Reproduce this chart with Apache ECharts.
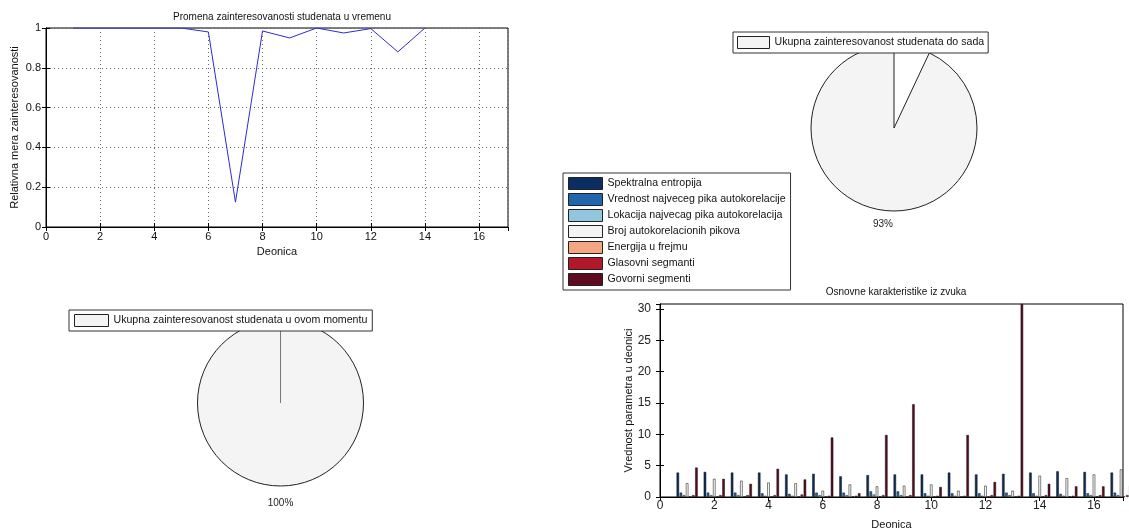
<!DOCTYPE html>
<html>
<head>
<meta charset="utf-8">
<script src="https://cdn.jsdelivr.net/npm/echarts@6/dist/echarts.min.js"></script>
<style>
  html, body { margin: 0; padding: 0; background: #fff; }
  #main { width: 1129px; height: 531px; }
</style>
</head>
<body>
<div id="main"></div>
<script>
// zainteresovanost po deonicama
const deonice = [1, 2, 3, 4, 5, 6, 7, 8, 9, 10, 11, 12, 13, 14];
const zainteresovanost = [1, 1, 1, 1, 1, 0.98, 0.125, 0.985, 0.95, 1, 0.975, 0.997, 0.88, 1];

// pite
const pieDoSada = [0.93, 0.07];
const pieMoment = [1, 0];
const pieDoSadaName = 'Ukupna zainteresovanost studenata do sada';
const pieMomentName = 'Ukupna zainteresovanost studenata u ovom momentu';

// karakteristike iz zvuka
const grupe = [1, 2, 3, 4, 5, 6, 7, 8, 9, 10, 11, 12, 13, 14, 15, 16, 17];
const imena = [
  'Spektralna entropija',
  'Vrednost najveceg pika autokorelacije',
  'Lokacija najvecag pika autokorelacija',
  'Broj autokorelacionih pikova',
  'Energija u frejmu',
  'Glasovni segmanti',
  'Govorni segmenti'
];
const boje = ['#0b2d61', '#2166ac', '#92c5de', '#f4f4f4', '#f4a582', '#b2182b', '#5e0a1f'];
const entropija = [3.9, 4.0, 3.9, 3.9, 3.6, 3.7, 3.3, 3.5, 3.6, 3.6, 3.9, 3.6, 3.7, 3.9, 4.1, 4.0, 3.9];
const vrednostPika = [0.7, 0.7, 0.7, 0.6, 0.5, 0.7, 0.7, 0.9, 0.9, 0.6, 0.6, 0.6, 0.7, 0.6, 0.5, 0.6, 0.7];
const lokacijaPika = [0.3, 0.3, 0.3, 0.2, 0.2, 0.3, 0.3, 0.4, 0.3, 0.2, 0.2, 0.2, 0.3, 0.2, 0.2, 0.3, 0.3];
const brojPikova = [2.2, 2.9, 2.6, 2.3, 2.2, 1.0, 2.0, 1.7, 1.8, 2.0, 1.0, 1.8, 1.0, 3.4, 3.0, 3.6, 4.4];
const energija = [0.1, 0.1, 0.1, 0.1, 0.1, 0.1, 0.1, 0.1, 0.1, 0.1, 0.1, 0.1, 0.1, 0.1, 0.1, 0.1, 0.1];
const glasovni = [0.3, 0.3, 0.3, 0.3, 0.4, 0.2, 0.2, 0.3, 0.3, 0.2, 0.2, 0.3, 0.2, 0.3, 0.2, 0.3, 0.3];
const govorni = [4.7, 2.9, 2.1, 4.5, 2.8, 9.5, 0.6, 9.9, 14.8, 1.6, 9.9, 2.4, 30.8, 2.1, 1.7, 1.7, 1.8];
const karakteristike = [entropija, vrednostPika, lokacijaPika, brojPikova, energija, glasovni, govorni];

const font = "'Liberation Sans', Arial, sans-serif";
const txt = { fontFamily: font, fontSize: 11, color: '#111' };
const legTxt = { fontFamily: font, fontSize: 10.6, color: '#111', lineHeight: 12 };
const barTxt = { fontFamily: font, fontSize: 12, color: '#222' };

let chart = echarts.init(document.getElementById('main'));

const frameAxisX = (grid) => ({
  type: 'value', gridIndex: grid, position: 'top', min: 0, max: 17.07, interval: 2,
  axisLine: { show: true, lineStyle: { color: '#000' } },
  axisTick: { inside: true, length: 4, lineStyle: { color: '#000' } },
  axisLabel: { show: false }, splitLine: { show: false }
});
const frameAxisY = (grid, max, interval) => ({
  type: 'value', gridIndex: grid, position: 'right', min: 0, max: max, interval: interval,
  axisLine: { show: true, lineStyle: { color: '#000' } },
  axisTick: { inside: true, length: 4, lineStyle: { color: '#000' } },
  axisLabel: { show: false }, splitLine: { show: false }
});

let barSeries = imena.map((ime, i) => ({
  name: ime,
  type: 'bar',
  xAxisIndex: 2,
  yAxisIndex: 2,
  barWidth: 2.5,
  barGap: '24%',
  data: grupe.map((g, j) => [g, karakteristike[i][j]]),
  itemStyle: { color: boje[i], borderColor: '#111', borderWidth: 0.5 },
  emphasis: { disabled: true }
}));

const pieLabel = { position: 'outside', formatter: '{d}%', fontFamily: font, fontSize: 10, color: '#222' };

let option = {
  animation: false,
  backgroundColor: '#fff',
  title: [
    { text: 'Promena zainteresovanosti studenata u vremenu', left: 277, top: 7, textAlign: 'center',
      textStyle: { fontFamily: font, fontSize: 10, fontWeight: 'normal', color: '#111' } },
    { text: 'Osnovne karakteristike iz zvuka', left: 891, top: 282, textAlign: 'center',
      textStyle: { fontFamily: font, fontSize: 10, fontWeight: 'normal', color: '#111' } }
  ],
  legend: [
    {
      data: [pieDoSadaName], left: 733, top: 32, orient: 'horizontal',
      icon: 'rect', itemWidth: 32, itemHeight: 12, itemGap: 3,
      padding: [4, 4], borderColor: '#333', borderWidth: 1, backgroundColor: '#fff',
      itemStyle: { borderColor: '#222', borderWidth: 1 },
      textStyle: legTxt, selectedMode: false
    },
    {
      data: [pieMomentName], left: 69, top: 310, orient: 'horizontal',
      icon: 'rect', itemWidth: 34, itemHeight: 12, itemGap: 3,
      padding: [4, 5], borderColor: '#333', borderWidth: 1, backgroundColor: '#fff',
      itemStyle: { borderColor: '#222', borderWidth: 1 },
      textStyle: legTxt, selectedMode: false
    },
    {
      data: imena, left: 563, top: 173, orient: 'vertical',
      icon: 'rect', itemWidth: 34, itemHeight: 12, itemGap: 3,
      padding: [4, 5], borderColor: '#333', borderWidth: 1, backgroundColor: '#fff',
      itemStyle: { borderColor: '#222', borderWidth: 1 },
      textStyle: legTxt, selectedMode: false
    }
  ],
  grid: [
    { left: 46, top: 28, width: 462, height: 199, show: true, borderColor: '#000', borderWidth: 1 },
    { left: 660, top: 304, width: 463, height: 198, show: true, borderColor: '#000', borderWidth: 1 }
  ],
  xAxis: [
    {
      type: 'value', gridIndex: 0, min: 0, max: 17.07, interval: 2,
      name: 'Deonica', nameLocation: 'middle', nameGap: 19, nameTextStyle: txt,
      axisLine: { show: true, onZero: false, lineStyle: { color: '#000' } },
      axisTick: { inside: true, length: 4, lineStyle: { color: '#000' } },
      axisLabel: Object.assign({ showMaxLabel: false, margin: 4 }, txt),
      splitLine: { show: true, lineStyle: { type: [1, 3], color: '#666' } }
    },
    frameAxisX(0),
    {
      type: 'value', gridIndex: 1, min: 0, max: 17.07, interval: 2,
      name: 'Deonica', nameLocation: 'middle', nameGap: 22, nameTextStyle: txt,
      axisLine: { show: true, onZero: false, lineStyle: { color: '#000' } },
      axisTick: { inside: true, length: 4, lineStyle: { color: '#000' } },
      axisLabel: Object.assign({ showMaxLabel: false, margin: 3 }, barTxt),
      splitLine: { show: false }
    },
    frameAxisX(1)
  ],
  yAxis: [
    {
      type: 'value', gridIndex: 0, min: 0, max: 1, interval: 0.2,
      name: 'Relativna mera zainteresovanosti', nameLocation: 'middle', nameGap: 26, nameTextStyle: txt,
      axisLine: { show: true, lineStyle: { color: '#000' } },
      axisTick: { inside: true, length: 4, lineStyle: { color: '#000' } },
      axisLabel: Object.assign({ margin: 5 }, txt),
      splitLine: { show: true, lineStyle: { type: [1, 3], color: '#666' } }
    },
    frameAxisY(0, 1, 0.2),
    {
      type: 'value', gridIndex: 1, min: 0, max: 30.8, interval: 5,
      name: 'Vrednost parametra u deonici', nameLocation: 'middle', nameGap: 26, nameTextStyle: txt,
      nameMoveOverlap: false,
      axisLine: { show: true, lineStyle: { color: '#000' } },
      axisTick: { inside: true, length: 4, lineStyle: { color: '#000' } },
      axisLabel: Object.assign({ margin: 9, showMaxLabel: false }, barTxt),
      splitLine: { show: false }
    },
    frameAxisY(1, 30.8, 5)
  ],
  series: [
    {
      type: 'line', xAxisIndex: 0, yAxisIndex: 0,
      data: deonice.map((d, i) => [d, zainteresovanost[i]]),
      symbol: 'none', lineStyle: { color: '#2b2bd6', width: 1 },
      emphasis: { disabled: true }
    },
    {
      type: 'pie', center: [894, 128], radius: 83, startAngle: 90, clockwise: false,
      emphasis: { disabled: true }, labelLine: { show: false, length: 0, length2: 0 },
      label: pieLabel,
      labelLayout: { align: 'center', dx: 12, dy: 15 },
      percentPrecision: 0,
      data: [
        { name: pieDoSadaName, value: pieDoSada[0], itemStyle: { color: '#f4f4f4', borderColor: '#222', borderWidth: 1 } },
        { name: 'ostatak', value: pieDoSada[1], itemStyle: { color: 'rgba(0,0,0,0)', borderWidth: 0 }, label: { show: false } }
      ]
    },
    {
      type: 'pie', center: [280.5, 403], radius: 83, startAngle: 90, clockwise: false,
      emphasis: { disabled: true }, labelLine: { show: false, length: 0, length2: 0 },
      label: pieLabel,
      labelLayout: { align: 'center', dx: -5, dy: 17 },
      percentPrecision: 0,
      data: [
        { name: pieMomentName, value: pieMoment[0], itemStyle: { color: '#f4f4f4', borderColor: '#222', borderWidth: 1 } },
        { name: 'ostatak', value: pieMoment[1], itemStyle: { color: 'rgba(0,0,0,0)', borderColor: '#777', borderWidth: 1 }, label: { show: false } }
      ]
    }
  ].concat(barSeries)
};

chart.setOption(option);
</script>
</body>
</html>
